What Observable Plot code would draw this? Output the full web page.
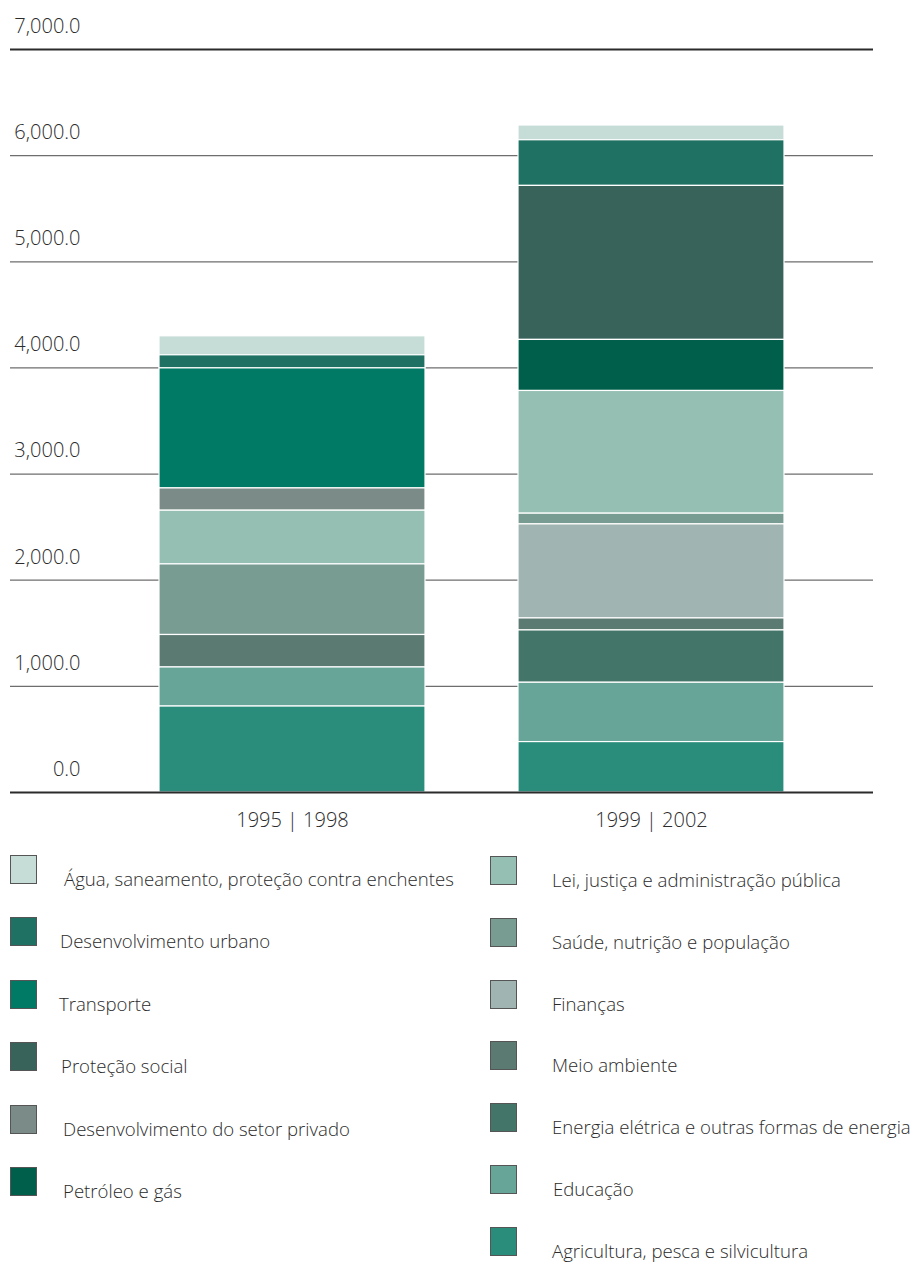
<!DOCTYPE html>
<html>
<head>
<meta charset="utf-8">
<script src="https://cdn.jsdelivr.net/npm/d3@7"></script>
<script src="https://cdn.jsdelivr.net/npm/@observablehq/plot@0.6"></script>
<style>
  html, body { margin: 0; padding: 0; background: #fff; }
  #wrap { position: relative; width: 913px; height: 1263px; font-family: "Open Sans", sans-serif; font-weight: 300; color: #2b2b2b; }
  #chart svg { display: block; }
  .sw { position: absolute; width: 27px; height: 29px; box-sizing: border-box; border: 1px solid #555; }
  .lab { position: absolute; font-size: 18.6px; line-height: 20px; white-space: nowrap; }
</style>
</head>
<body>
<div id="wrap">
  <div id="chart"></div>
  <div id="legend"></div>
</div>
<script>
const periods = ["1995 | 1998", "1999 | 2002"];
const sectors = [
  "Água, saneamento, proteção contra enchentes",
  "Desenvolvimento urbano",
  "Transporte",
  "Proteção social",
  "Desenvolvimento do setor privado",
  "Petróleo e gás",
  "Lei, justiça e administração pública",
  "Saúde, nutrição e população",
  "Finanças",
  "Meio ambiente",
  "Energia elétrica e outras formas de energia",
  "Educação",
  "Agricultura, pesca e silvicultura"
];
const colors = [
  "#c5ddd6", "#1f7263", "#007a65", "#37635a", "#7b8c88", "#005f4b",
  "#95bfb3", "#789b92", "#a0b5b1", "#5b7a72", "#437568", "#66a598", "#2a8d7b"
];
const values1995 = [179, 123, 1131, 0, 210, 0, 506, 665, 0, 306, 0, 368, 810];
const values1999 = [139, 430, 0, 1451, 0, 481, 1156, 101, 886, 113, 493, 559, 475];
const gridTicks = [1000, 2000, 3000, 4000, 5000, 6000];
const labelTicks = [0, 1000, 2000, 3000, 4000, 5000, 6000, 7000];

const series = [values1995, values1999];
const data = [];
periods.forEach((p, i) => sectors.forEach((s, j) => {
  if (series[i][j] > 0) data.push({period: p, sector: s, value: series[i][j]});
}));
const fmt = d3.format(",.1f");

const chart = Plot.plot({
  width: 913,
  height: 850,
  marginTop: 49,
  marginBottom: 58,
  marginLeft: 10,
  marginRight: 40,
  style: {fontFamily: "'Open Sans', sans-serif", fontWeight: 300, color: "#2b2b2b", background: "white"},
  x: {domain: periods, range: [65, 877.5], padding: 0.26, label: null},
  y: {domain: [0, 7000], label: null, axis: null},
  color: {domain: sectors, range: colors},
  marks: [
    Plot.ruleY(gridTicks, {stroke: "#6e6e6e", strokeWidth: 1.3}),
    Plot.ruleY([7000], {stroke: "#2b2b2b", strokeWidth: 2}),
    Plot.barY(data, {
      x: "period", y: "value", fill: "sector",
      order: sectors.slice().reverse(),
      stroke: "white", strokeWidth: 1.2, inset: 0
    }),
    Plot.ruleY([0], {stroke: "#2b2b2b", strokeWidth: 2.2}),
    Plot.text(labelTicks, {
      y: d => d, text: d => fmt(d), frameAnchor: "left", dx: 70,
      textAnchor: "end", dy: -23, fontSize: 20, fill: "#2b2b2b"
    }),
    Plot.axisX({tickSize: 0, tickPadding: 20, fontSize: 20, fill: "#2b2b2b", label: null})
  ]
});
document.getElementById("chart").appendChild(chart);

const legend = document.getElementById("legend");
const leftCol = sectors.slice(0, 6);
const rightCol = sectors.slice(6);
const leftTextX = [64, 60, 59, 61, 63, 63];
const rightTextX = [552, 552, 552, 552, 552, 553, 552];
function addItem(name, x, top, textX) {
  const sw = document.createElement("div");
  sw.className = "sw";
  sw.style.left = x + "px";
  sw.style.top = top + "px";
  sw.style.background = colors[sectors.indexOf(name)];
  legend.appendChild(sw);
  const lab = document.createElement("div");
  lab.className = "lab";
  lab.style.left = textX + "px";
  lab.style.top = (top + 14) + "px";
  lab.textContent = name;
  legend.appendChild(lab);
}
leftCol.forEach((s, i) => addItem(s, 10, 855 + i * 62.4, leftTextX[i]));
rightCol.forEach((s, i) => addItem(s, 490, 856 + i * 61.8, rightTextX[i]));
</script>
</body>
</html>
